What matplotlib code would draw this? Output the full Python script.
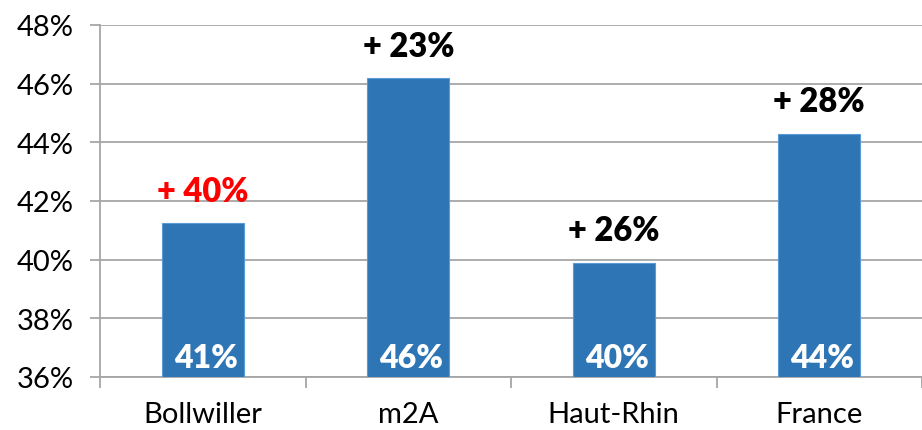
import matplotlib
matplotlib.use("Agg")
import matplotlib.pyplot as plt
import matplotlib.ticker as mticker

# data
categories = ["Bollwiller", "m2A", "Haut-Rhin", "France"]
values = [41.25, 46.2, 39.9, 44.3]
value_labels = ["41%", "46%", "40%", "44%"]
growth_labels = ["+ 40%", "+ 23%", "+ 26%", "+ 28%"]
growth_colors = ["#FF0000", "black", "black", "black"]

plt.rcParams["font.family"] = ["Lato", "DejaVu Sans"]

fig = plt.figure(figsize=(9.22, 4.31), dpi=100)
ax = fig.add_axes([100 / 922, 53 / 431, 822 / 922, 352 / 431])

x = range(len(categories))
bars = ax.bar(x, values, width=0.4, bottom=0, color="#2E75B6",
              edgecolor="#5B9BD5", linewidth=0.8, zorder=3)

ax.set_ylim(36, 48)
ax.set_xlim(-0.5, 3.47)
ax.yaxis.set_major_locator(mticker.MultipleLocator(2))
ax.yaxis.set_major_formatter(mticker.FormatStrFormatter("%d%%"))

ax.grid(axis="y", color="#A6A6A6", linewidth=1.3, zorder=0)
ax.set_axisbelow(True)

for side in ["top", "right"]:
    ax.spines[side].set_visible(False)
for side in ["left", "bottom"]:
    ax.spines[side].set_color("#A6A6A6")
    ax.spines[side].set_linewidth(1.3)

# category labels between boundary ticks
ax.set_xticks([i - 0.5 for i in x] + [3.5], minor=False)
ax.set_xticklabels([])
ax.set_xticks(list(x), minor=True)
ax.set_xticklabels(categories, minor=True, fontsize=21)
ax.tick_params(axis="x", which="major", length=8, color="#A6A6A6", width=1.3)
ax.tick_params(axis="x", which="minor", length=0, pad=17)
ax.tick_params(axis="y", length=7, color="#A6A6A6", width=1.3, labelsize=21, pad=12)

for i, b in enumerate(bars):
    ax.annotate(growth_labels[i], (b.get_x() + b.get_width() / 2, values[i]),
                xytext=(0, 16), textcoords="offset points", ha="center",
                va="baseline", fontsize=23.5, fontweight="heavy",
                color=growth_colors[i])
    ax.annotate(value_labels[i], (b.get_x() + b.get_width() / 2, 36),
                xytext=(2, 7), textcoords="offset points", ha="center",
                va="baseline", fontsize=23, fontweight="heavy", color="white",
                zorder=4)

fig.savefig("out.png", dpi=100)
